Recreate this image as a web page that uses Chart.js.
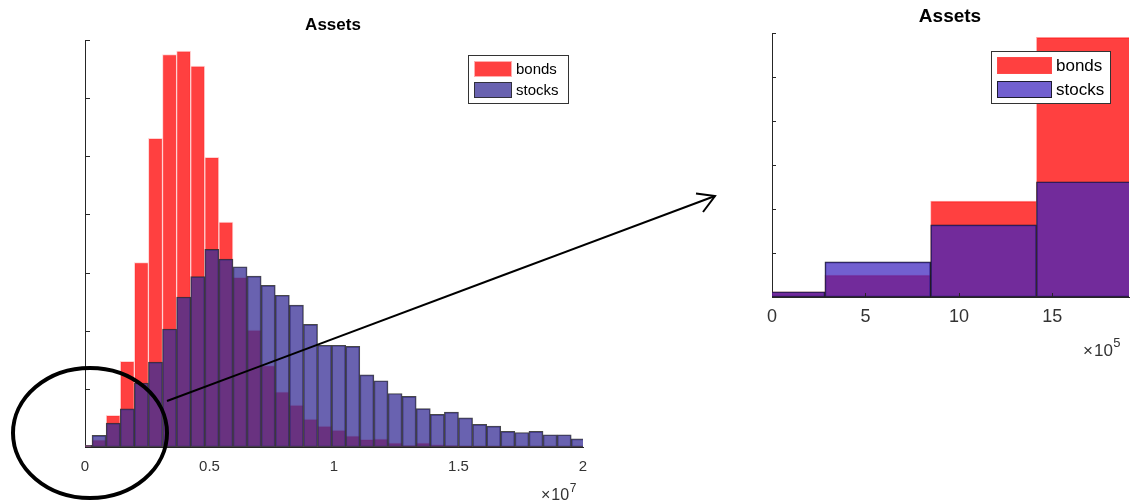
<!DOCTYPE html>
<html>
<head>
<meta charset="utf-8">
<script src="https://cdn.jsdelivr.net/npm/chart.js@4"></script>
<style>
  html, body { margin: 0; padding: 0; background: #fff; }
  #wrap { position: relative; width: 1130px; height: 501px; overflow: hidden; }
  #left { position: absolute; left: 0; top: 0; }
  #right { position: absolute; left: 740px; top: 0; }
  #ov { position: absolute; left: 0; top: 0; pointer-events: none; }
</style>
</head>
<body>
<div id="wrap">
  <canvas id="left" width="610" height="501"></canvas>
  <canvas id="right" width="390" height="501"></canvas>
  <svg id="ov" width="1130" height="501" viewBox="0 0 1130 501">
    <ellipse cx="90" cy="433" rx="77" ry="65" fill="none" stroke="#000" stroke-width="4"/>
    <line x1="167" y1="401" x2="715" y2="196" stroke="#000" stroke-width="2"/>
    <polyline points="696,193.5 715,196 703,212" fill="none" stroke="#000" stroke-width="2"/>
  </svg>
</div>
<script>
// ---- data ----
const binCenters = [0, 566000, 1132000, 1698000, 2264000, 2830000, 3396000, 3962000, 4528000,
  5094000, 5660000, 6226000, 6792000, 7358000, 7924000, 8490000, 9056000, 9622000, 10188000,
  10754000, 11320000, 11886000, 12452000, 13018000, 13584000, 14150000, 14716000, 15282000,
  15848000, 16414000, 16980000, 17546000, 18112000, 18678000, 19244000, 19810000];
const bonds = [6, 25, 109, 295, 634, 1062, 1350, 1362, 1310, 996, 774, 584, 402, 280, 190, 144,
  96, 72, 58, 38, 26, 28, 14, 6, 14, 8, 6, 3, 2, 2, 2, 1, 1, 1, 1, 1];
const stocks = [6, 40, 82, 131, 220, 292, 406, 516, 586, 680, 646, 620, 588, 556, 522, 488,
  422, 350, 350, 346, 248, 228, 184, 174, 132, 112, 120, 100, 78, 72, 54, 50, 54, 42, 42, 28];
const seriesNames = ['bonds', 'stocks'];
const leftTicksX = [0, 5000000, 10000000, 15000000, 20000000];
const rightTicksX = [0, 500000, 1000000, 1500000];
const chartTitle = 'Assets';

const FAMILY = '"Liberation Sans", Arial, Helvetica, sans-serif';

function pts(arr) { return binCenters.map((x, i) => ({ x: x, y: arr[i] })); }

function deco(cfg) {
  return {
    id: 'deco',
    afterDraw(chart) {
      const ctx = chart.ctx, a = chart.chartArea;
      ctx.save();
      // title
      ctx.fillStyle = '#000';
      ctx.font = 'bold ' + cfg.titleSize + 'px ' + FAMILY;
      ctx.textAlign = 'center'; ctx.textBaseline = 'middle';
      ctx.fillText(chartTitle, cfg.titleX, cfg.titleY);
      // inward y ticks
      ctx.strokeStyle = '#262626'; ctx.lineWidth = 1;
      const ys = chart.scales.y;
      ys.ticks.forEach(t => {
        if (t.value === 0) return;
        const p = Math.round(ys.getPixelForValue(t.value)) + 0.5;
        ctx.beginPath(); ctx.moveTo(a.left, p); ctx.lineTo(a.left + cfg.tickLen, p); ctx.stroke();
      });
      if (cfg.xTicks) {
        const xs = chart.scales.xt;
        xs.ticks.forEach(t => {
          if (t.value === 0) return;
          const p = Math.round(xs.getPixelForValue(t.value)) + 0.5;
          ctx.beginPath(); ctx.moveTo(p, a.bottom); ctx.lineTo(p, a.bottom - cfg.tickLen); ctx.stroke();
        });
      }
      // legend
      const L = cfg.legend;
      ctx.fillStyle = '#fff';
      ctx.fillRect(L.x, L.y, L.w, L.h);
      ctx.strokeStyle = '#333'; ctx.lineWidth = 1;
      ctx.strokeRect(L.x + 0.5, L.y + 0.5, L.w, L.h);
      const dsets = chart.data.datasets;
      ctx.font = L.font + 'px ' + FAMILY;
      ctx.textAlign = 'left'; ctx.textBaseline = 'middle';
      [0, 1].forEach(i => {
        const ds = dsets.find(d => d.label === seriesNames[i]);
        const sy = L.rows[i];
        ctx.fillStyle = ds.backgroundColor;
        ctx.fillRect(L.sx, sy, L.sw, L.sh);
        ctx.strokeStyle = ds.borderColor; ctx.lineWidth = 1;
        ctx.strokeRect(L.sx + 0.5, sy + 0.5, L.sw - 1, L.sh - 1);
        ctx.fillStyle = '#000';
        ctx.fillText(seriesNames[i], L.tx, sy + L.sh / 2 + 0.5);
      });
      // exponent label
      const E = cfg.exp;
      ctx.fillStyle = '#333';
      ctx.textBaseline = 'alphabetic';
      ctx.font = E.size + 'px ' + FAMILY;
      ctx.fillText('\u00d7', E.x, E.y);
      const w1 = ctx.measureText('\u00d7').width;
      ctx.fillText('10', E.x + w1 + 1, E.y);
      const w2 = ctx.measureText('10').width;
      ctx.font = E.supSize + 'px ' + FAMILY;
      ctx.fillText(E.sup, E.x + w1 + 1 + w2 + 0.5, E.y - E.supRise);
      ctx.restore();
    }
  };
}

function makeChart(id, o) {
  return new Chart(document.getElementById(id), {
    type: 'bar',
    data: {
      datasets: [
        { label: seriesNames[1], data: pts(stocks), order: 1,
          backgroundColor: o.stockColor, borderColor: o.stockBorder, borderWidth: 1,
          borderSkipped: false, grouped: false, barPercentage: 1, categoryPercentage: 1,
          xAxisID: 'x', clip: 0 },
        { label: seriesNames[0], data: pts(bonds), order: 2,
          backgroundColor: 'rgba(255,0,0,0.75)', borderColor: o.bondBorder, borderWidth: 1,
          borderSkipped: false, grouped: false, barPercentage: 1, categoryPercentage: 1,
          xAxisID: 'x', clip: 0 }
      ]
    },
    options: {
      responsive: false, animation: false,
      layout: { padding: o.padding },
      plugins: { legend: { display: false }, title: { display: false }, tooltip: { enabled: false } },
      scales: {
        x: { type: 'linear', display: false, min: o.xmin, max: o.xmax, offset: false,
             ticks: { stepSize: 566000, includeBounds: false } },
        xt: { type: 'linear', position: 'bottom', min: o.xmin, max: o.xmax, offset: false,
              afterFit: s => { s.height = o.xHeight; },
              grid: { display: false, drawTicks: false, offset: false },
              border: { display: true, color: '#262626', width: 1 },
              afterBuildTicks: s => { s.ticks = o.xTickVals.map(v => ({ value: v })); },
              ticks: { includeBounds: false, padding: o.tickPad, color: '#333', maxRotation: 0,
                       font: { size: o.tickSize, family: FAMILY },
                       callback: v => String(v / o.xDiv) } },
        y: { type: 'linear', min: 0, max: o.ymax, position: 'left',
             afterFit: s => { s.width = o.yWidth; },
             grid: { display: false, drawTicks: false },
             border: { display: true, color: '#262626', width: 1 },
             ticks: { display: false, stepSize: o.ystep } }
      }
    },
    plugins: [deco(o.deco)]
  });
}

makeChart('left', {
  xmin: 0, xmax: 20000000, xDiv: 10000000, xTickVals: leftTicksX,
  ymax: 1400, ystep: 200,
  padding: { left: 0, right: 27, top: 40, bottom: 0 },
  xHeight: 54, yWidth: 85, tickPad: 11, tickSize: 15,
  stockColor: 'rgba(55,45,150,0.75)', stockBorder: 'rgba(40,40,40,0.85)',
  bondBorder: 'rgba(255,200,200,0.8)',
  deco: { titleX: 333, titleY: 25, titleSize: 17, tickLen: 5, xTicks: false,
    legend: { x: 468, y: 55, w: 100, h: 48, sx: 474, sw: 38, sh: 16, rows: [61, 82], tx: 516, font: 15 },
    exp: { x: 541, y: 500, size: 16, sup: '7', supSize: 12, supRise: 8 } }
});

makeChart('right', {
  xmin: 0, xmax: 1910000, xDiv: 100000, xTickVals: rightTicksX,
  ymax: 300, ystep: 50,
  padding: { left: 0, right: 1, top: 33, bottom: 0 },
  xHeight: 204, yWidth: 32, tickPad: 9, tickSize: 18,
  stockColor: 'rgba(60,35,190,0.72)', stockBorder: 'rgba(20,20,30,0.9)',
  bondBorder: 'rgba(255,80,80,0.6)',
  deco: { titleX: 210, titleY: 17, titleSize: 19, tickLen: 4, xTicks: true,
    legend: { x: 251, y: 51, w: 119, h: 52, sx: 257, sw: 55, sh: 17, rows: [57, 81], tx: 316, font: 17 },
    exp: { x: 343, y: 356, size: 17, sup: '5', supSize: 13, supRise: 9 } }
});
</script>
</body>
</html>
